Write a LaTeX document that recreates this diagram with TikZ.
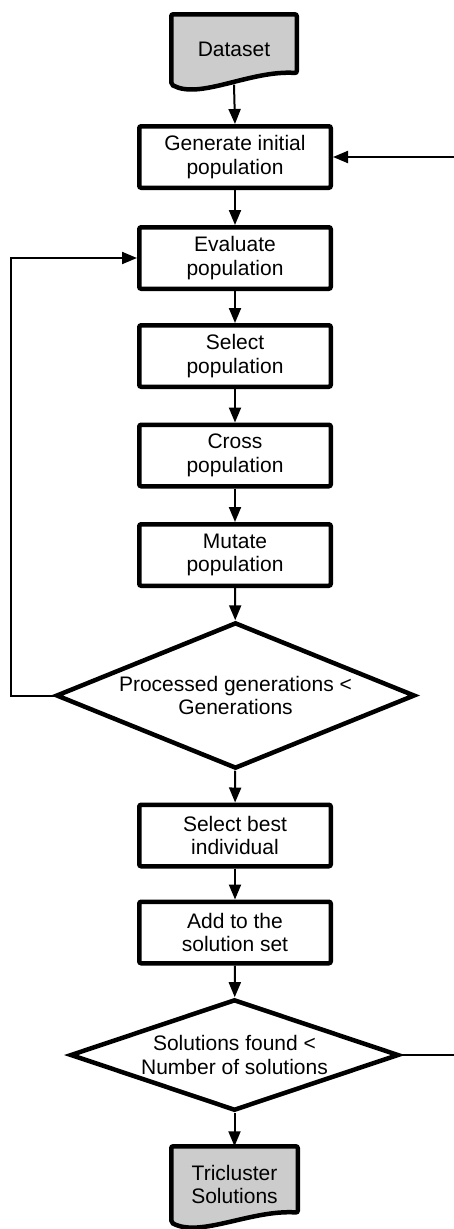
\documentclass[tikz,border=0pt]{standalone}
\usepackage{fontspec}
\setmainfont{Liberation Sans}
\usetikzlibrary{arrows.meta,shapes.geometric,backgrounds,calc}
\newcommand\chartfont{\fontsize{21pt}{23.5pt}\selectfont}
\definecolor{docgray}{HTML}{CCCCCC}
\tikzset{
  stepbox/.style={draw, line width=4.5pt, rounded corners=2pt,
    minimum width=191.5pt, minimum height=61.5pt, inner sep=0pt,
    align=center, font=\chartfont},
  docnode/.style={inner sep=0pt, outer sep=0pt, minimum width=125.5pt,
    align=center, font=\chartfont},
  docline/.style={draw, fill=docgray, line width=4.5pt, rounded corners=2pt},
  decision/.style={diamond, draw, line width=4.5pt, inner sep=0pt},
  decisiontext/.style={font=\chartfont, align=center, inner sep=0pt},
  flow/.style={line width=2pt, -{Triangle[length=15pt,width=12pt]}},
}
\begin{document}
\begin{tikzpicture}[x=1pt, y=-1pt]
  \useasboundingbox (0,0) rectangle (454,1229);
  \clip (0,0) rectangle (454,1229);

  % input and output documents
  \node[docnode, minimum height=70.25pt] (data) at (234,49.4) {Dataset};
  \node[docnode, minimum width=126.5pt, minimum height=76.25pt] (tri) at (234.5,1184.4)
    {Tricluster\\Solutions};
  \begin{scope}[on background layer]
    \draw[docline] (data.south west) -- (data.north west) -- (data.north east)
      -- ($(data.south east)+(0,-11.5)$)
      .. controls +(-46.75,-3) and +(28.75,15.5) .. (data.south west) -- cycle;
    \draw[docline] (tri.south west) -- (tri.north west) -- (tri.north east)
      -- ($(tri.south east)+(0,-10)$)
      .. controls +(-46.75,-3) and +(28.75,15.5) .. (tri.south west) -- cycle;
  \end{scope}

  % process steps
  \node[stepbox] (gen)   at (235,157)   {Generate initial\\population};
  \node[stepbox] (eval)  at (235,258)   {Evaluate\\population};
  \node[stepbox] (sel)   at (235,356)   {Select\\population};
  \node[stepbox] (cross) at (235,455.5) {Cross\\population};
  \node[stepbox] (mut)   at (235,555)   {Mutate\\population};
  \node[decision, minimum width=358.9pt, minimum height=146.2pt,
    label={[decisiontext]center:{Processed generations <\\Generations}}]
    (gens) at (235.5,695.5) {};
  \node[stepbox] (best)  at (235,835.5) {Select best\\individual};
  \node[stepbox] (add)   at (235,932.5) {Add to the\\solution set};
  \node[decision, minimum width=328.6pt, minimum height=111.3pt,
    label={[decisiontext]center:{Solutions found <\\Number of solutions}}]
    (sols) at (234.5,1055) {};

  % rails of the two loops
  \coordinate (leftrail) at (11,0);
  \coordinate (rightrail) at (470,0);

  % main flow
  \draw[flow] (data.south) -- (gen.north);
  \draw[flow] (gen) -- (eval);
  \draw[flow] (eval) -- (sel);
  \draw[flow] (sel) -- (cross);
  \draw[flow] (cross) -- (mut);
  \draw[flow] (mut) -- (gens);
  \draw[flow] (gens) -- (best);
  \draw[flow] (best) -- (add);
  \draw[flow] (add) -- (sols);
  \draw[flow] (sols) -- (tri.north);

  % loops
  \draw[flow] (gens.west) -- (gens.west -| leftrail) |- (eval.west);
  \draw[flow] (sols.east) -- (sols.east -| rightrail) |- (gen.east);
\end{tikzpicture}
\end{document}
